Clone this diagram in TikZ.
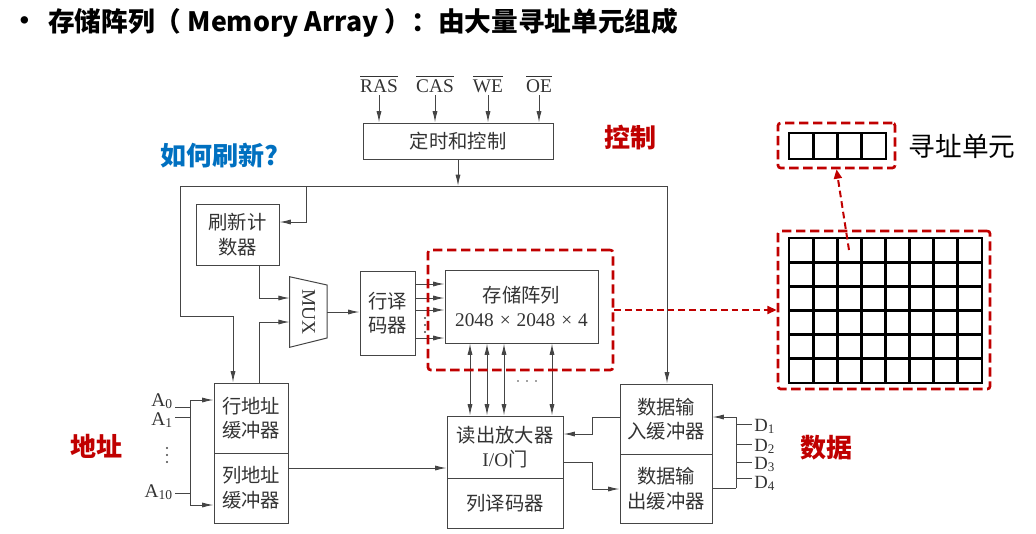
\documentclass[tikz,border=0pt]{standalone}
\usepackage{fontspec}
\usepackage{amsmath}
\setmainfont{Liberation Serif}
\newfontfamily\cjk{Noto Sans CJK SC}
\usetikzlibrary{arrows.meta}
\definecolor{hlred}{HTML}{C00000}
\definecolor{hlblue}{HTML}{0070C0}
\definecolor{ln}{HTML}{454545}
\definecolor{tx}{HTML}{333333}
\begin{document}
\begin{tikzpicture}[x=0.75pt,y=-0.75pt,
  wire/.style={draw=ln, line width=0.75pt},
  arr/.style={wire, -{Latex[length=8.5pt,width=3.8pt]}},
  darr/.style={wire, {Latex[length=8.5pt,width=3.8pt]}-{Latex[length=8.5pt,width=3.8pt]}},
  sz/.style 2 args={minimum width=#1*0.75pt, minimum height=#2*0.75pt},
  blk/.style={draw=ln, line width=0.75pt, inner sep=0pt, align=center, text=tx, font=\cjk\fontsize{14.5}{18.5}\selectfont},
  lat/.style={text=tx, font=\fontsize{14.5}{17}\selectfont, inner sep=0pt},
  hl/.style={font=\cjk\bfseries\fontsize{19.5}{22}\selectfont, inner sep=0pt},
  rdash/.style={draw=hlred, line width=2pt, dash pattern=on 7pt off 3.5pt, rounded corners=2pt, inner sep=0pt},
  rarr/.style={draw=hlred, line width=1.5pt, dash pattern=on 5pt off 3pt, -{Triangle[length=7pt,width=6pt]}},
  cellgrid/.style={draw=black, line width=2.2pt, line cap=rect},
  dotf/.style={fill=ln},
]
\useasboundingbox (0,0) rectangle (1036,533);

% title
\node[font=\cjk\bfseries\fontsize{20}{20}\selectfont, inner sep=0pt] (bullet) at (24.5,24) {·};
\node[font=\cjk\bfseries\fontsize{20}{24}\selectfont, anchor=west, inner sep=0pt] (title) at (48,23) {存储阵列（ Memory Array ）：由大量寻址单元组成};

% control signals
\node[lat, anchor=base, inner sep=2pt] (ras) at (379,92) {$\overline{\text{RAS}}$};
\node[lat, anchor=base, inner sep=2pt] (cas) at (435,92) {$\overline{\text{CAS}}$};
\node[lat, anchor=base, inner sep=2pt] (we) at (488,92) {$\overline{\text{WE}}$};
\node[lat, anchor=base, inner sep=2pt] (oe) at (539,92) {$\overline{\text{OE}}$};

\node[blk, sz={190}{36}] (ctrl) at (458,141) {定时和控制};
\foreach \s in {ras,cas,we,oe}
  \draw[arr] (\s.south) -- (\s.south |- ctrl.north);

% blocks
\node[blk, sz={83}{61}] (refresh) at (237.5,234.5) {刷新计\\数器};
\node[inner sep=0pt, sz={37}{70}] (mux) at (308.5,312) {};
\draw[wire] (mux.north west) -- (327,285) -- (327,338) -- (mux.south west) -- cycle;
\node[lat, rotate=-90] (muxtext) at (mux.center) {MUX};
\node[blk, sz={55}{84}] (rowdec) at (387.5,313) {行译\\码器};
\node[blk, sz={153}{73}] (mem) at (521.5,306.5) {存储阵列\\{\rmfamily 2048\hspace{4.5pt}×\hspace{4.5pt}2048\hspace{4.5pt}×\hspace{4.5pt}4}};
\node[blk, sz={74}{70}] (rowbuf) at (251,418) {行地址\\缓冲器};
\node[blk, sz={74}{70}] (colbuf) at (251,488) {列地址\\缓冲器};
\node[blk, sz={116}{62}] (sense) at (505,447) {读出放大器\\{\rmfamily I/O}门};
\node[blk, sz={116}{50}] (coldec) at (505,503) {列译码器};
\node[blk, sz={92}{70}] (din) at (666,419) {数据输\\入缓冲器};
\node[blk, sz={92}{69}] (dout) at (666,488.5) {数据输\\出缓冲器};

% control bus
\coordinate (junc) at (458,186);
\coordinate (busL) at (180,186);
\coordinate (busR) at (667,186);
\coordinate (brf) at (306,186);
\draw[arr] (ctrl.south) -- (junc);
\draw[wire] (busL) -- (busR);
\draw[arr] (busR) -- (busR |- din.north);
\draw[arr] (busL) -- (180,316) -- (233,316) -- (rowbuf.north -| 233,0);
\draw[arr] (brf) -- (306,222) -- (refresh.east |- 0,222);

% refresh / mux / decoder
\draw[arr] (refresh.south -| 259,0) -- (259,298) -- (mux.west |- 0,298);
\draw[arr] (rowbuf.north -| 259,0) -- (259,322) -- (mux.west |- 0,322);
\draw[arr] (mux.east |- 0,312) -- (rowdec.west |- 0,312);
\foreach \y in {284,298,310,338}
  \draw[arr] (rowdec.east |- 0,\y) -- (mem.west |- 0,\y);
\foreach \y in {318,325,332}
  \fill[dotf] (425,\y) circle (0.8pt);

% memory <-> sense
\foreach \x in {470,487,504,552}
  \draw[darr] (mem.south -| \x,0) -- (sense.north -| \x,0);
\foreach \x in {518,527,536}
  \fill[dotf] (\x,381) circle (0.7pt);

% address inputs
\node[lat, anchor=base east, inner xsep=1.5pt] (a0) at (175,406) {A\textsubscript{0}};
\node[lat, anchor=base east, inner xsep=1.5pt] (a1) at (175,425) {A\textsubscript{1}};
\node[lat, anchor=base east, inner xsep=1.5pt] (a10) at (175,497) {A\textsubscript{10}};
\draw[wire] (a0.east |- 0,407) -- (190,407);
\draw[wire] (a1.east |- 0,417) -- (190,417);
\draw[wire] (a10.east |- 0,493) -- (190,493);
\draw[arr] (190,505) -- (190,400) -- (rowbuf.west |- 0,400);
\draw[arr] (190,505) -- (colbuf.west |- 0,505);
\foreach \y in {448,455,462}
  \fill[dotf] (167,\y) circle (0.8pt);
\draw[arr] (colbuf.east |- 0,468) -- (sense.west |- 0,468);

% data path
\draw[arr] (din.west |- 0,417) -- (592,417) -- (592,434) -- (sense.east |- 0,434);
\draw[arr] (sense.east |- 0,462) -- (592,462) -- (592,489) -- (dout.west |- 0,489);
\node[lat, font=\fontsize{14}{16}\selectfont, anchor=base west, inner xsep=1.5pt] (d1) at (752,431) {D\textsubscript{1}};
\node[lat, font=\fontsize{14}{16}\selectfont, anchor=base west, inner xsep=1.5pt] (d2) at (752,451) {D\textsubscript{2}};
\node[lat, font=\fontsize{14}{16}\selectfont, anchor=base west, inner xsep=1.5pt] (d3) at (752,469) {D\textsubscript{3}};
\node[lat, font=\fontsize{14}{16}\selectfont, anchor=base west, inner xsep=1.5pt] (d4) at (752,488) {D\textsubscript{4}};
\draw[wire] (dout.east |- 0,488) -- (736,488);
\draw[arr] (736,488) -- (736,417) -- (din.east |- 0,417);
\draw[wire] (736,424) -- (d1.west |- 0,424);
\draw[wire] (736,444) -- (d2.west |- 0,444);
\draw[wire] (736,462) -- (d3.west |- 0,462);
\draw[wire] (736,478) -- (d4.west |- 0,478);

% highlights
\node[hl, text=hlblue] (howref) at (219,156) {如何刷新?};
\node[hl, text=hlred] (ctrllab) at (630,138) {控制};
\node[hl, text=hlred] (addrlab) at (96,446) {地址};
\node[hl, text=hlred] (datalab) at (826.5,448) {数据};

\node[rdash, sz={185}{120}] (hlmem) at (520.5,310) {};
\node[rdash, sz={212}{158}] (gridbox) at (884,310) {};
\node[rdash, sz={117}{45}] (unitbox) at (836.5,145.5) {};
\foreach \i in {0,...,8}
  \draw[cellgrid] (789+\i*24.125,238) -- (789+\i*24.125,383);
\foreach \j in {0,...,6}
  \draw[cellgrid] (789,238+\j*24.167) -- (982,238+\j*24.167);
\foreach \i in {0,...,4}
  \draw[cellgrid] (789+\i*24.25,133) -- (789+\i*24.25,159);
\draw[cellgrid] (789,133) -- (886,133);
\draw[cellgrid] (789,159) -- (886,159);
\node[font=\cjk\fontsize{20}{24}\selectfont, inner sep=0pt] (unitlab) at (962,146) {寻址单元};

\coordinate (cellpt) at (849,250);
\draw[rarr] (hlmem.east) -- (gridbox.west);
\draw[rarr] (cellpt) -- (unitbox.south);
\end{tikzpicture}
\end{document}
